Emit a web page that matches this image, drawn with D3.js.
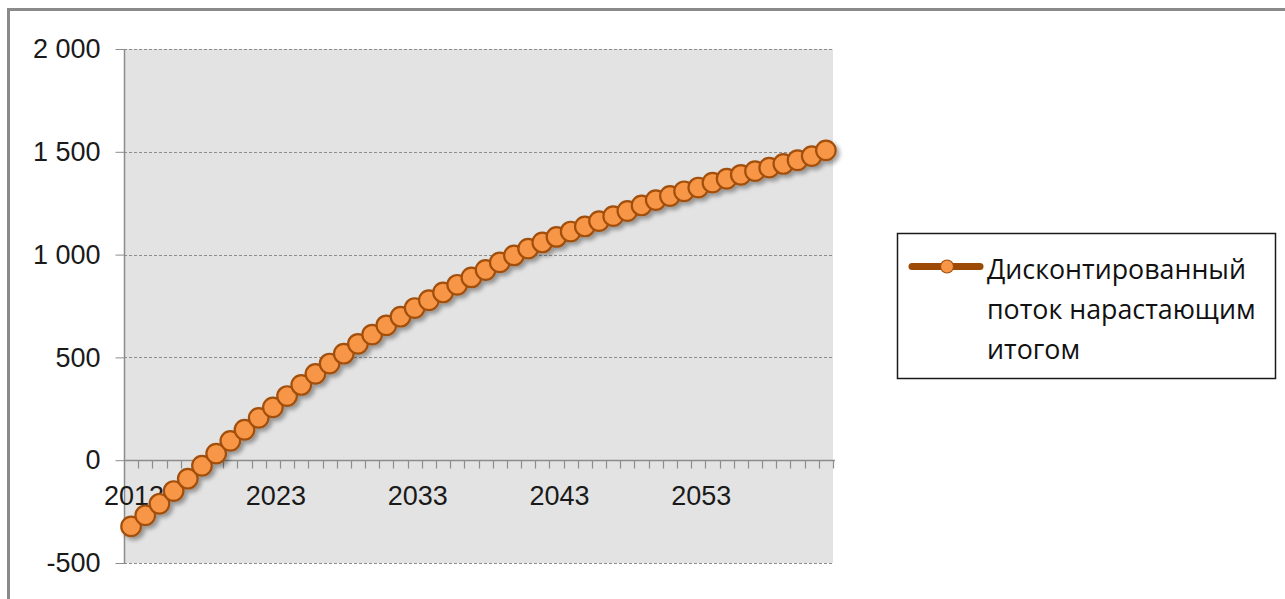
<!DOCTYPE html>
<html>
<head>
<meta charset="utf-8">
<script src="https://cdn.jsdelivr.net/npm/d3@7"></script>
<style>
  html, body { margin: 0; padding: 0; background: #fff; }
  svg { display: block; }
</style>
</head>
<body>
<svg id="chart" width="1285" height="599"></svg>
<script>
// Годы расчётного периода
const years = [
  2013, 2014, 2015, 2016, 2017, 2018, 2019, 2020, 2021, 2022,
  2023, 2024, 2025, 2026, 2027, 2028, 2029, 2030, 2031, 2032,
  2033, 2034, 2035, 2036, 2037, 2038, 2039, 2040, 2041, 2042,
  2043, 2044, 2045, 2046, 2047, 2048, 2049, 2050, 2051, 2052,
  2053, 2054, 2055, 2056, 2057, 2058, 2059, 2060, 2061, 2062
];

// Дисконтированный поток нарастающим итогом
const cumulativeDiscounted = [
  -322, -268, -212, -150, -90, -27, 32, 94, 148, 206,
  257, 312, 366, 420, 470, 518, 566, 611, 656, 698,
  740, 778, 816, 853, 889, 925, 962, 996, 1029, 1059,
  1086, 1112, 1137, 1163, 1187, 1212, 1239, 1265, 1285, 1308,
  1326, 1350, 1369, 1388, 1406, 1423, 1441, 1459, 1479, 1507
];

const xTickLabels = ["2013", "2023", "2033", "2043", "2053"];
const yTicks = [-500, 0, 500, 1000, 1500, 2000];
const seriesName = ["Дисконтированный", "поток нарастающим", "итогом"];

const svg = d3.select("#chart");

const plot = { left: 124, right: 833, top: 49, bottom: 563 };

const x = d3.scaleBand()
  .domain(years)
  .range([plot.left, plot.right])
  .padding(0);

const y = d3.scaleLinear()
  .domain([-500, 2000])
  .range([plot.bottom, plot.top]);

// разделитель разрядов — пробел, знак минуса — обычный дефис
const fmt = v => d3.format(",")(v).replace(/,/g, " ").replace("\u2212", "-");

// внешняя рамка области диаграммы
svg.append("path")
  .attr("d", "M8.5,599 L8.5,9.5 L1285,9.5")
  .attr("fill", "none")
  .attr("stroke", "#8a8a8a")
  .attr("stroke-width", 3);

// фон области построения
svg.append("rect")
  .attr("x", plot.left)
  .attr("y", y(2000))
  .attr("width", plot.right - plot.left)
  .attr("height", y(-500) - y(2000))
  .attr("fill", "#e3e3e3");

// горизонтальные линии сетки
svg.append("g")
  .selectAll("line")
  .data(yTicks.filter(v => v !== 0))
  .join("line")
  .attr("x1", plot.left)
  .attr("x2", plot.right)
  .attr("y1", d => Math.round(y(d)) + 0.5)
  .attr("y2", d => Math.round(y(d)) + 0.5)
  .attr("stroke", "#8c8c8c")
  .attr("stroke-width", 1)
  .attr("stroke-dasharray", "3,2");

// ось Y
const yAxis = d3.axisLeft(y)
  .tickValues(yTicks)
  .tickSize(9)
  .tickPadding(15)
  .tickFormat(fmt);

const gy = svg.append("g")
  .attr("transform", `translate(${plot.left + 0.5},0)`)
  .call(yAxis);
gy.select(".domain").attr("stroke", "#8c8c8c").attr("stroke-width", 1.5)
  .attr("d", `M0,${y(-500)}V${y(2000)}`);
gy.selectAll(".tick line").attr("stroke", "#8c8c8c");
gy.selectAll(".tick text")
  .attr("fill", "#1a1a1a")
  .style("font-family", "'Liberation Sans', Arial, sans-serif")
  .style("font-size", "27px");

// ось X по нулевому уровню
const zeroY = Math.round(y(0)) + 0.5;
const gx = svg.append("g");
gx.append("line")
  .attr("x1", plot.left)
  .attr("x2", plot.right + 2)
  .attr("y1", zeroY)
  .attr("y2", zeroY)
  .attr("stroke", "#8c8c8c")
  .attr("stroke-width", 1.5);

// засечки на границах категорий
const boundaries = years.map(d => x(d)).concat([x(years[years.length - 1]) + x.bandwidth()]);
gx.selectAll("line.tick")
  .data(boundaries.slice(1))
  .join("line")
  .attr("class", "tick")
  .attr("x1", d => Math.round(d) + 0.5)
  .attr("x2", d => Math.round(d) + 0.5)
  .attr("y1", zeroY)
  .attr("y2", zeroY + 8)
  .attr("stroke", "#8c8c8c")
  .attr("stroke-width", 1.2);

gx.selectAll("text")
  .data(xTickLabels)
  .join("text")
  .attr("x", d => x(+d) + x.bandwidth() / 2 + 3)
  .attr("y", 505)
  .attr("text-anchor", "middle")
  .attr("fill", "#1a1a1a")
  .style("font-family", "'Liberation Sans', Arial, sans-serif")
  .style("font-size", "27px")
  .text(d => d);

// тень для маркеров
const defs = svg.append("defs");
const shadow = defs.append("filter")
  .attr("id", "markerShadow")
  .attr("x", "-20%").attr("y", "-20%")
  .attr("width", "140%").attr("height", "140%");
shadow.append("feDropShadow")
  .attr("dx", 3)
  .attr("dy", 3)
  .attr("stdDeviation", 2.2)
  .attr("flood-color", "#000")
  .attr("flood-opacity", 0.35);

const points = years.map((yr, i) => ({ year: yr, value: cumulativeDiscounted[i] }));
const cx = d => x(d.year) + x.bandwidth() / 2;

const series = svg.append("g").attr("filter", "url(#markerShadow)");

series.append("path")
  .datum(points)
  .attr("fill", "none")
  .attr("stroke", "#9c4a06")
  .attr("stroke-width", 6)
  .attr("stroke-linejoin", "round")
  .attr("d", d3.line().x(cx).y(d => y(d.value)));

series.selectAll("circle")
  .data(points)
  .join("circle")
  .attr("cx", cx)
  .attr("cy", d => y(d.value))
  .attr("r", 9.8)
  .attr("fill", "#f79646")
  .attr("stroke", "#a24f0a")
  .attr("stroke-width", 2.2);

// легенда
const legend = svg.append("g");
legend.append("rect")
  .attr("x", 897.5)
  .attr("y", 233.5)
  .attr("width", 378)
  .attr("height", 145)
  .attr("fill", "#fff")
  .attr("stroke", "#1a1a1a")
  .attr("stroke-width", 1.5);

legend.append("line")
  .attr("x1", 912)
  .attr("x2", 980)
  .attr("y1", 266.5)
  .attr("y2", 266.5)
  .attr("stroke", "#9c4a06")
  .attr("stroke-width", 7)
  .attr("stroke-linecap", "round");

legend.append("circle")
  .attr("cx", 947)
  .attr("cy", 266.5)
  .attr("r", 6.5)
  .attr("fill", "#f79646")
  .attr("stroke", "#a24f0a")
  .attr("stroke-width", 1.2);

const legendText = legend.selectAll("text")
  .data(seriesName)
  .join("text")
  .attr("x", 987)
  .attr("y", (d, i) => 279 + i * 40)
  .attr("fill", "#111")
  .style("font-family", "'Open Sans', 'Noto Sans', sans-serif")
  .style("font-size", "27px")
  .text(d => d);

// подгонка размера шрифта легенды по ширине первой строки
const firstWidth = legendText.node().getComputedTextLength();
const targetWidth = 259;
const fs = 27 * targetWidth / firstWidth;
legendText.style("font-size", fs.toFixed(2) + "px");
</script>
</body>
</html>
